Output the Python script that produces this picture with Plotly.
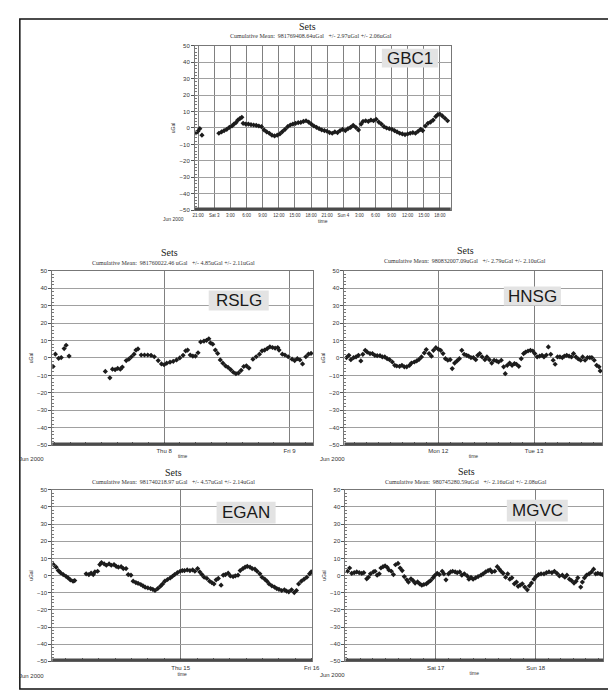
import datetime as dt
import plotly.graph_objects as go

# ---------------- data (hours relative to midnight of base day, values in uGal) ----------------
gbc1_hours = [-3.4, -3.05, -2.7, -2.3,
              0.85, 1.34, 1.83, 2.32, 2.80, 3.29, 3.66, 4.02, 4.39, 4.76,
              5.12, 5.37, 5.85, 6.34, 6.83, 7.32, 7.80, 8.29, 8.78, 9.27,
              9.76, 10.24, 10.73, 11.22, 11.71, 12.20, 12.68, 13.17, 13.66, 14.15,
              14.63, 15.12, 15.61, 16.10, 16.59, 17.07, 17.56, 18.05, 18.54, 19.02,
              19.51, 20.0, 20.49, 20.98, 21.46, 21.95, 22.44, 22.93, 23.41, 23.90,
              24.39, 24.88, 25.37, 25.85, 26.34, 26.83, 27.32, 27.68, 28.17, 28.66,
              29.15, 29.63, 30.12, 30.61, 31.10, 31.59, 32.07, 32.56, 33.05, 33.54,
              34.02, 34.51, 35.0, 35.49, 35.98, 36.46, 36.95, 37.44, 37.93, 38.41,
              38.78, 39.27, 39.76, 40.24, 40.73, 41.22, 41.59, 41.95, 42.44, 42.93,
              43.41]
gbc1_vals = [-3.0, -2.0, -0.4, -4.4,
             -3.2, -2.4, -1.6, -0.8, 0.4, 1.2, 2.4, 3.2, 4.8, 5.7,
             6.5, 2.8, 2.4, 2.4, 2.0, 1.8, 1.6, 1.2, 0.8, -1.2,
             -2.4, -3.2, -4.4, -4.8, -4.4, -3.6, -2.2, -0.8, 0.8, 1.8,
             2.4, 2.8, 3.2, 3.4, 4.0, 4.4, 3.6, 2.4, 1.2, 0.4,
             -0.4, -1.2, -1.6, -2.0, -2.8, -3.2, -2.4, -2.8, -1.6, -0.8,
             -1.6, -0.4, 0.4, 1.6, 0.4, -1.2, 2.4, 4.0, 4.4, 4.0,
             4.8, 4.4, 5.3, 3.6, 2.4, 0.8, 0.0, -0.4, -0.8, -1.6,
             -2.4, -3.2, -3.6, -4.0, -3.6, -3.2, -2.8, -3.2, -2.0, -0.8,
             -1.6, 1.2, 2.8, 3.6, 4.8, 6.9, 8.1, 8.5, 7.3, 5.9,
             4.4]

rslg_hours = [-21.25, -20.81, -20.19, -19.69, -19.13, -18.75, -18.19,
              -11.25, -10.38, -9.88, -9.38, -8.88, -8.38, -8.0, -7.25, -6.75, -6.25,
              -5.75, -5.38, -5.0, -4.38, -3.75, -3.13, -2.5, -1.88, -1.13, -0.5,
              0.0, 0.5, 1.13, 1.75, 2.38, 3.0, 3.63, 4.13, 4.5, 5.0,
              5.5, 6.0, 6.5, 7.0, 7.63, 8.13, 8.56, 8.88, 9.31, 9.81,
              10.25, 10.75, 11.25, 11.75, 12.25, 12.75, 13.25, 13.75, 14.25, 14.75,
              15.25, 15.75, 16.25, 17.0, 17.63, 18.25, 18.75, 19.25, 19.75, 20.25,
              20.75, 21.25, 21.75, 22.0, 22.63, 23.13, 23.75, 24.5, 25.0, 25.5,
              26.0, 26.5, 27.13, 27.63, 28.13]
rslg_vals = [-4.9, 2.2, -0.2, 0.2, 5.4, 7.3, 1.1,
             -7.7, -11.4, -6.4, -6.7, -6.0, -6.4, -5.2, -1.5, -0.7, 0.7,
             2.2, 4.5, 5.2, 1.7, 1.7, 1.7, 1.5, 0.7, -1.5, -3.4,
             -3.9, -3.0, -2.4, -1.9, -1.1, 0.0, 1.5, 4.1, 4.5, 1.7,
             1.1, 1.1, 3.0, 9.2, 9.7, 10.1, 11.0, 8.6, 7.9, 4.5,
             2.6, -1.1, -3.0, -4.5, -5.4, -6.7, -8.2, -9.0, -8.6, -7.1,
             -4.9, -4.5, -5.8, -0.7, 0.7, 2.2, 4.1, 4.5, 5.4, 6.4,
             6.0, 5.6, 6.0, 4.5, 2.2, 1.7, 0.7, -0.7, -1.5, -0.4,
             -1.1, -3.4, 0.7, 2.2, 2.6]

hnsg_hours = [-23.0, -22.4, -21.9, -21.2, -20.6, -20.0, -19.4, -18.9, -18.3, -17.8,
              -17.1, -16.5, -15.9, -15.3, -14.6, -14.0, -13.4, -12.8, -12.2, -11.5,
              -10.9, -10.4, -9.7, -9.1, -8.5, -7.9, -7.2, -6.7, -6.0, -5.4,
              -4.8, -4.2, -3.5, -3.0, -2.3, -1.7, -1.2, -0.6, 0.0, 0.6,
              1.2, 1.8, 2.4, 3.0, 3.5, 4.1, 4.7, 5.3, 5.9, 6.5,
              7.1, 7.6, 8.2, 8.8, 9.4, 9.9, 10.4, 11.0, 11.7, 12.2,
              12.8, 13.4, 14.0, 14.6, 15.1, 15.8, 16.4, 16.8, 17.3, 17.9,
              18.5, 19.1, 19.6, 20.2, 20.8, 21.4, 21.9, 22.5, 23.1, 23.7,
              24.2, 24.8, 25.4, 26.0, 26.5, 27.1, 27.6, 28.2, 28.8, 29.3,
              29.9, 30.5, 31.1, 31.6, 32.2, 32.8, 33.4, 33.9, 34.5, 35.1,
              35.7, 36.2, 36.8, 37.4, 38.0, 38.5, 39.1, 39.7, 40.3, 40.6]
hnsg_vals = [0.2, 1.5, -1.0, 0.2, 0.6, 1.5, -1.7, 2.1, 4.4, 3.4,
             2.5, 2.5, 1.5, 1.3, 1.3, 0.6, 0.6, -0.4, -1.0, -2.3,
             -4.2, -4.6, -4.8, -4.2, -5.1, -5.1, -4.2, -2.9, -2.3, -1.7,
             -0.8, 0.6, 2.9, 4.8, 2.5, 1.0, 4.4, 5.9, 5.1, 4.4,
             2.5, -0.4, -1.3, -1.0, -6.1, -2.9, -1.7, -0.4, 4.4, 2.1,
             1.5, 1.0, 0.2, 0.2, -1.0, 1.5, 2.5, 0.6, -1.0, 0.6,
             -1.0, -2.9, -1.3, -1.7, -2.3, -1.3, -5.1, -9.0, -4.2, -2.9,
             -4.2, -3.2, -3.6, -4.8, -0.4, 2.5, 3.4, 4.0, 4.4, 4.0,
             2.5, 0.6, 1.0, 1.5, 0.6, 1.7, 6.3, 2.1, -1.3, -3.6,
             0.6, 0.6, 0.2, 1.0, 1.5, 1.0, 0.6, 2.5, 0.6, -0.6,
             -1.3, 0.6, -1.3, 0.2, 0.2, 0.2, -1.3, -4.2, -5.1, -7.4]

egan_hours = [-23.3, -22.8, -22.4, -22.0, -21.5, -21.0, -20.6, -20.2, -19.7, -19.4,
              -17.3, -16.8, -16.4, -16.0, -15.7, -15.2, -14.8, -14.5, -14.0, -13.6,
              -13.1, -12.7, -12.2, -11.8, -11.4, -10.9, -10.5, -10.0, -9.6, -9.1,
              -8.7, -8.2, -7.8, -7.3, -6.9, -6.5, -6.0, -5.5, -5.1, -4.7,
              -4.2, -3.7, -3.3, -2.9, -2.4, -1.9, -1.5, -1.1, -0.6, -0.1,
              0.3, 0.7, 1.2, 1.7, 2.2, 2.6, 3.1, 3.5, 3.9, 4.3,
              4.8, 5.3, 5.7, 6.1, 6.5, 6.9, 7.4, 7.8, 8.2, 8.7,
              9.1, 9.6, 10.0, 10.5, 10.9, 11.4, 11.8, 12.2, 12.7, 13.1,
              13.6, 14.0, 14.5, 14.9, 15.4, 15.8, 16.2, 16.7, 17.2, 17.6,
              18.0, 18.5, 19.0, 19.4, 19.8, 20.3, 20.8, 21.2, 21.6, 22.1,
              22.6, 23.1, 23.6, 23.9]
egan_vals = [6.4, 4.9, 2.9, 1.7, 0.6, -0.4, -1.4, -2.5, -3.3, -2.9,
             1.0, 0.6, 1.4, 0.6, 2.1, 2.5, 6.4, 7.6, 6.8, 6.0,
             6.8, 6.0, 6.4, 5.4, 4.9, 5.2, 4.1, 4.1, 0.6, 0.2,
             -3.3, -4.1, -4.5, -5.2, -6.0, -6.8, -7.2, -7.6, -8.0, -8.7,
             -7.6, -6.2, -4.9, -3.3, -2.3, -1.4, -0.4, 0.6, 1.7, 2.5,
             2.9, 2.9, 3.3, 2.9, 3.3, 2.5, 4.1, 2.1, 0.6, -1.0,
             -1.7, -3.3, -4.1, -4.9, -2.5, -1.7, -5.6, 0.2, 0.6, 1.4,
             -0.2, -0.6, -0.2, 0.2, 2.9, 4.1, 4.9, 5.4, 4.9, 4.1,
             3.7, 2.5, 1.0, -1.0, -2.1, -3.3, -4.9, -6.0, -6.8, -7.6,
             -8.0, -8.7, -8.3, -9.1, -9.5, -8.3, -9.9, -8.7, -4.9, -3.3,
             -2.1, -1.0, 1.0, 2.1]

mgvc_hours = [-21.1, -20.6, -20.1, -19.5, -18.9, -18.3, -17.7, -17.2, -16.5, -16.1,
              -15.6, -14.9, -14.5, -14.0, -13.5, -13.1, -12.6, -12.1, -11.6, -11.2,
              -10.6, -10.1, -9.6, -9.0, -8.5, -8.0, -7.5, -6.9, -6.5, -5.9,
              -5.4, -4.9, -4.3, -3.8, -3.3, -2.8, -2.2, -1.7, -1.2, -0.6,
              -0.2, 0.4, 0.9, 1.6, 2.0, 2.5, 3.1, 3.6, 4.1, 4.7,
              5.2, 5.8, 6.3, 6.9, 7.6, 8.0, 8.5, 9.0, 9.6, 10.2,
              10.9, 11.4, 12.0, 12.6, 13.1, 13.5, 14.2, 14.8, 15.3, 15.7,
              16.2, 16.8, 17.3, 17.8, 18.3, 18.9, 19.4, 19.8, 20.3, 20.8,
              21.4, 22.0, 22.5, 23.0, 23.6, 24.1, 24.7, 25.3, 26.0, 26.6,
              27.2, 27.9, 28.5, 29.1, 29.7, 30.4, 31.0, 31.5, 32.1, 32.6,
              33.2, 33.7, 34.1, 34.8, 35.2, 35.7, 36.2, 36.8, 37.4, 37.9,
              38.4, 38.9, 39.5, 40.0]
mgvc_vals = [2.5, 4.4, 1.3, 1.7, 2.1, 1.7, 1.3, 1.7, -1.9, -1.0,
             1.0, 2.1, 2.5, 0.2, 1.0, 4.4, 5.2, 5.6, 4.8, 3.3,
             2.5, 0.6, 6.3, 7.1, 4.4, 2.9, -0.6, -2.5, -3.8, -1.9,
             -2.9, -4.4, -3.7, -4.8, -5.6, -5.2, -4.8, -3.8, -2.9, -1.3,
             0.0, 1.3, 0.6, 2.5, 1.0, -2.5, 1.0, 2.1, 2.5, 2.1,
             1.7, 2.1, 0.2, 1.0, -0.2, -2.1, -1.0, -2.1, -1.3, -0.6,
             0.2, 1.0, 2.1, 2.9, 3.3, 2.1, 2.5, 5.2, 3.7, 2.5,
             1.3, -1.0, 1.0, -2.1, -1.3, -4.8, -3.8, -6.3, -5.6, -4.8,
             -6.7, -8.3, -6.0, -4.4, -2.1, -0.6, 0.6, 1.0, 1.0, 1.7,
             2.1, 1.7, 2.5, 1.3, -0.2, 0.2, -1.0, 0.2, -2.1, -2.9,
             -4.4, -3.3, -1.3, -6.7, -3.8, -1.3, 0.2, 1.0, 2.1, 3.7,
             1.0, 1.3, 1.0, 0.6]

station_names = ["GBC1", "RSLG", "HNSG", "EGAN", "MGVC"]
mean_texts = [
    "Cumulative Mean:  981769408.64uGal   +/- 2.97uGal +/- 2.06uGal",
    "Cumulative Mean:  981760022.46 uGal   +/- 4.85uGal +/- 2.11uGal",
    "Cumulative Mean:  980832007.09uGal   +/- 2.79uGal +/- 2.10uGal",
    "Cumulative Mean:  981740218.97 uGal   +/- 4.57uGal +/- 2.14uGal",
    "Cumulative Mean:  980745280.59uGal   +/- 2.16uGal +/- 2.08uGal",
]
gbc1_tick_hours = [-3, 0, 3, 6, 9, 12, 15, 18, 21, 24, 27, 30, 33, 36, 39, 42]
gbc1_tick_labels = ["21:00", "Sat 3", "3:00", "6:00", "9:00", "12:00", "15:00", "18:00",
                    "21:00", "Sun 4", "3:00", "6:00", "9:00", "12:00", "15:00", "18:00"]
day_tick_labels = [["Thu 8", "Fri 9"], ["Mon 12", "Tue 13"], ["Thu 15", "Fri 16"], ["Sat 17", "Sun 18"]]
y_ticks = [-50, -40, -30, -20, -10, 0, 10, 20, 30, 40, 50]

# ---------------- layout geometry (pixels) ----------------
W, H = 616, 691
def pxx(x): return x / W
def pxy(y): return 1 - y / H

panels = [
    dict(base=dt.datetime(2000, 6, 3), hours=gbc1_hours, vals=gbc1_vals, rng=(-3.6, 44.0),
         box=(188, 448, 35, 201), title=(302, 15.5), sub=(306, 25.5), lbl=(378, 435, 38, 57),
         jun=(166, 210), tfs=4.5),
    dict(base=dt.datetime(2000, 6, 8), hours=rslg_hours, vals=rslg_vals, rng=(-21.4, 28.5),
         box=(43, 308, 262, 438), title=(162, 243.5), sub=(166, 254), lbl=(202, 263, 282, 302),
         jun=(22, 452), tfs=6),
    dict(base=dt.datetime(2000, 6, 12), hours=hnsg_hours, vals=hnsg_vals, rng=(-23.5, 41.1),
         box=(340, 602, 262, 438), title=(463, 242), sub=(463, 252.5), lbl=(502, 560, 278, 297),
         jun=(328, 452), tfs=6),
    dict(base=dt.datetime(2000, 6, 15), hours=egan_hours, vals=egan_vals, rng=(-23.5, 24.05),
         box=(43, 307, 483, 656), title=(166, 465.5), sub=(166, 475.5), lbl=(210, 270, 495, 517),
         jun=(22, 671), tfs=6),
    dict(base=dt.datetime(2000, 6, 17), hours=mgvc_hours, vals=mgvc_vals, rng=(-21.6, 40.2),
         box=(341, 603, 483, 656), title=(464, 465), sub=(464, 475.5), lbl=(505, 567, 493, 515),
         jun=(328, 670), tfs=6),
]

fig = go.Figure()
shapes, annotations = [], []
lay = {}

for i, p in enumerate(panels, start=1):
    sfx = "" if i == 1 else str(i)
    base = p["base"]
    xs = [base + dt.timedelta(hours=h) for h in p["hours"]]
    fig.add_trace(go.Scatter(
        x=xs, y=p["vals"], mode="markers", xaxis="x" + sfx, yaxis="y" + sfx,
        marker=dict(symbol="diamond", size=4, color="#1c1c1c", line=dict(width=0)),
        showlegend=False, hoverinfo="skip"))
    x0, x1, y0, y1 = p["box"]
    rng = [base + dt.timedelta(hours=p["rng"][0]), base + dt.timedelta(hours=p["rng"][1])]
    if i == 1:
        tv = [base + dt.timedelta(hours=h) for h in gbc1_tick_hours]
        tt = gbc1_tick_labels
        minor = dict(ticks="")
    else:
        tv = [base, base + dt.timedelta(days=1)]
        tt = day_tick_labels[i - 2]
        minor = dict(ticks="inside", ticklen=3, tickcolor="#555", dtick=3 * 3600 * 1000,
                     tick0="2000-06-01", showgrid=False)
    lay["xaxis" + sfx] = dict(
        domain=[pxx(x0), pxx(x1)], anchor="y" + sfx, type="date", range=rng,
        tickvals=tv, ticktext=tt, ticks="", showgrid=True, gridcolor="#808080", gridwidth=1,
        showline=True, linecolor="#777", linewidth=1, mirror=True, zeroline=False,
        tickfont=dict(family="Liberation Sans", size=p["tfs"], color="#333"),
        title=dict(text="time", font=dict(family="Liberation Sans", size=5, color="#333"), standoff=1),
        minor=minor, fixedrange=True)
    lay["yaxis" + sfx] = dict(
        domain=[pxy(y1), pxy(y0)], anchor="x" + sfx, range=[-50, 50], tickvals=y_ticks,
        ticks="outside", ticklen=3, tickcolor="#555", showgrid=True, gridcolor="#a0a0a0",
        gridwidth=1, zeroline=False, showline=True, linecolor="#777", linewidth=1, mirror=True,
        tickfont=dict(family="Liberation Sans", size=6, color="#333"),
        title=dict(text="uGal", font=dict(family="Liberation Sans", size=5, color="#333"), standoff=3),
        minor=dict(ticks="inside", ticklen=2, tickcolor="#777", dtick=2, showgrid=False),
        fixedrange=True)
    # thick bottom axis band
    shapes.append(dict(type="line", xref="paper", yref="paper", x0=pxx(x0), x1=pxx(x1),
                       y0=pxy(y1) + 1.2 / H, y1=pxy(y1) + 1.2 / H,
                       line=dict(color="#4a4a4a", width=3)))
    # station label box
    lx0, lx1, ly0, ly1 = p["lbl"]
    shapes.append(dict(type="rect", xref="paper", yref="paper", x0=pxx(lx0), x1=pxx(lx1),
                       y0=pxy(ly1), y1=pxy(ly0), fillcolor="#e3e3e3", line=dict(width=0),
                       layer="above"))
    annotations.append(dict(text=station_names[i - 1], xref="paper", yref="paper",
                            x=pxx((lx0 + lx1) / 2), y=pxy((ly0 + ly1) / 2), showarrow=False,
                            xanchor="center", yanchor="middle",
                            font=dict(family="Liberation Sans", size=17, color="#1a1a1a")))
    # titles
    annotations.append(dict(text="Sets", xref="paper", yref="paper", x=pxx(p["title"][0]),
                            y=pxy(p["title"][1]), showarrow=False, xanchor="center", yanchor="middle",
                            font=dict(family="Liberation Serif", size=10, color="#222")))
    annotations.append(dict(text=mean_texts[i - 1], xref="paper", yref="paper", x=pxx(p["sub"][0]),
                            y=pxy(p["sub"][1]), showarrow=False, xanchor="center", yanchor="middle",
                            font=dict(family="Liberation Serif", size=6, color="#333")))
    annotations.append(dict(text="Jun 2000", xref="paper", yref="paper", x=pxx(p["jun"][0]),
                            y=pxy(p["jun"][1]), showarrow=False, xanchor="center", yanchor="middle",
                            font=dict(family="Liberation Sans", size=5 if i == 1 else 6, color="#333")))

# outer frame
shapes.append(dict(type="rect", xref="paper", yref="paper", x0=pxx(10), x1=pxx(610),
                   y0=pxy(684), y1=pxy(8), line=dict(color="#111", width=1.5), layer="below"))

fig.update_layout(width=W, height=H, autosize=False, margin=dict(l=0, r=0, t=0, b=0),
                  paper_bgcolor="white", plot_bgcolor="white", showlegend=False,
                  shapes=shapes, annotations=annotations, **lay)
fig.write_html("out.html")
